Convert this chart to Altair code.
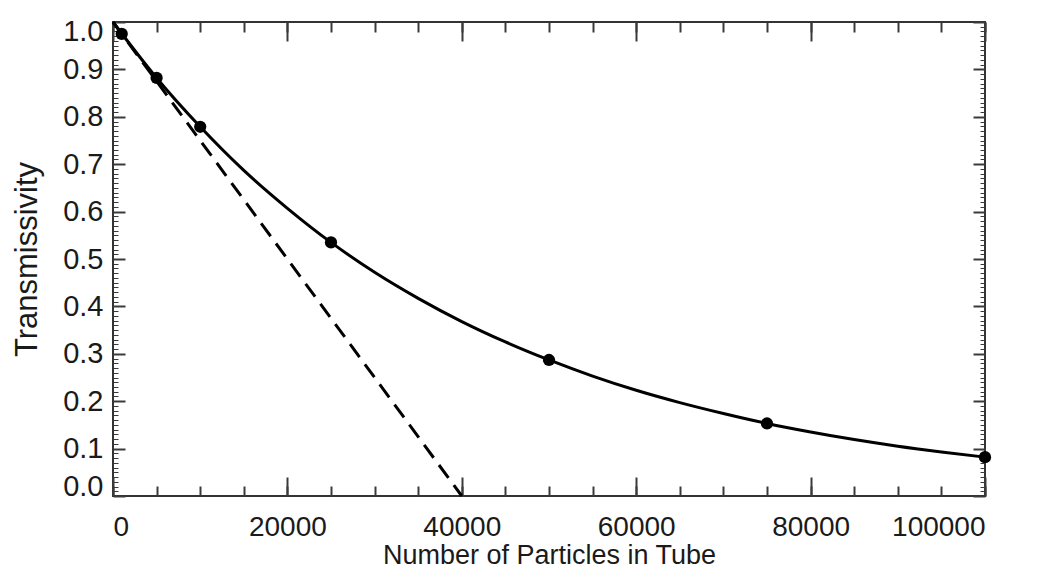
import altair as alt
import pandas as pd

# Smooth transmissivity curve
curve_x = [0, 5000, 10000, 15000, 20000, 25000, 30000, 35000, 40000, 45000, 50000,
           55000, 60000, 65000, 70000, 75000, 80000, 85000, 90000, 95000, 100000]
curve_y = [1.000, 0.882, 0.779, 0.687, 0.607, 0.535, 0.472, 0.417, 0.368, 0.325, 0.287,
           0.253, 0.223, 0.197, 0.174, 0.153, 0.135, 0.119, 0.105, 0.093, 0.082]

# Measured points
point_x = [1000, 5000, 10000, 25000, 50000, 75000, 100000]
point_y = [0.975, 0.882, 0.779, 0.535, 0.287, 0.153, 0.082]

# Dashed linear approximation
dash_x = [0, 40000]
dash_y = [1.0, 0.0]

# Tick positions / labels
x_major = [0, 20000, 40000, 60000, 80000, 100000]
x_minor = list(range(0, 100001, 5000))
y_major = [round(i * 0.1, 1) for i in range(0, 11)]
y_minor = [round(i * 0.01, 2) for i in range(0, 101)]

FONT = "Liberation Sans"
TXT = "#1a1a1a"
TICK = "#3a3a3a"

curve_df = pd.DataFrame({"x": curve_x, "y": curve_y})
point_df = pd.DataFrame({"x": point_x, "y": point_y})
dash_df = pd.DataFrame({"x": dash_x, "y": dash_y})

xs = alt.Scale(domain=[0, 100000], nice=False, zero=False)
ys = alt.Scale(domain=[0, 1.0], nice=False, zero=False)


def tick_axis(orient, values, size, width):
    return alt.Axis(orient=orient, values=values, tickSize=size, offset=-size,
                    labels=False, domain=False, title=None, grid=False,
                    tickColor=TICK, tickWidth=width)


# Layer 1: curve + labelled axes
curve = alt.Chart(curve_df).mark_line(color="black", strokeWidth=3, interpolate="monotone").encode(
    x=alt.X("x:Q", scale=xs, axis=alt.Axis(
        orient="bottom", values=x_major, format="d", ticks=False, domain=False, grid=False,
        labelPadding=17, labelFont=FONT, labelFontSize=28, labelColor=TXT,
        title="Number of Particles in Tube", titleFont=FONT, titleFontSize=27,
        titleFontWeight="normal", titleColor=TXT, titleBaseline="alphabetic", titleY=67)),
    y=alt.Y("y:Q", scale=ys, axis=alt.Axis(
        orient="left", values=y_major, format=".1f", ticks=False, domain=False, grid=False,
        labelPadding=10, labelFlush=True, labelFlushOffset=5, labelFont=FONT, labelFontSize=29,
        labelColor=TXT,
        title="Transmissivity", titleFont=FONT, titleFontSize=31, titleFontWeight="normal",
        titleColor=TXT, titleBaseline="alphabetic", titleX=-77)),
)

# Layer 2: dashed line + bottom/left major inward ticks
dash = alt.Chart(dash_df).mark_line(color="black", strokeWidth=3, strokeDash=[16, 9]).encode(
    x=alt.X("x:Q", scale=xs, axis=tick_axis("bottom", x_major, 19, 2)),
    y=alt.Y("y:Q", scale=ys, axis=tick_axis("left", y_major, 12, 2)),
)

# Layer 3: points + bottom/left minor inward ticks
points = alt.Chart(point_df).mark_circle(color="black", size=150, opacity=1).encode(
    x=alt.X("x:Q", scale=xs, axis=tick_axis("bottom", x_minor, 10, 2)),
    y=alt.Y("y:Q", scale=ys, axis=tick_axis("left", y_minor, 5, 1)),
)

# Layer 4/5: invisible, carrying top/right mirrored ticks
top_major = alt.Chart(point_df).mark_point(opacity=0).encode(
    x=alt.X("x:Q", scale=xs, axis=tick_axis("top", x_major, 19, 2)),
    y=alt.Y("y:Q", scale=ys, axis=tick_axis("right", y_major, 12, 2)),
)
top_minor = alt.Chart(point_df).mark_point(opacity=0).encode(
    x=alt.X("x:Q", scale=xs, axis=tick_axis("top", x_minor, 10, 2)),
    y=alt.Y("y:Q", scale=ys, axis=tick_axis("right", y_minor, 5, 1)),
)

chart = (
    alt.layer(curve, dash, points, top_major, top_minor)
    .resolve_scale(x="shared", y="shared")
    .resolve_axis(x="independent", y="independent")
    .properties(
        width=872, height=474,
        autosize=alt.AutoSizeParams(type="none"),
        padding={"left": 105, "top": 14, "right": 46, "bottom": 72},
        background="white",
    )
    .configure_view(stroke="#333333", strokeWidth=2)
    .configure_axis(grid=False)
)

chart.save("out.html", embed_options={"renderer": "svg", "actions": False})
